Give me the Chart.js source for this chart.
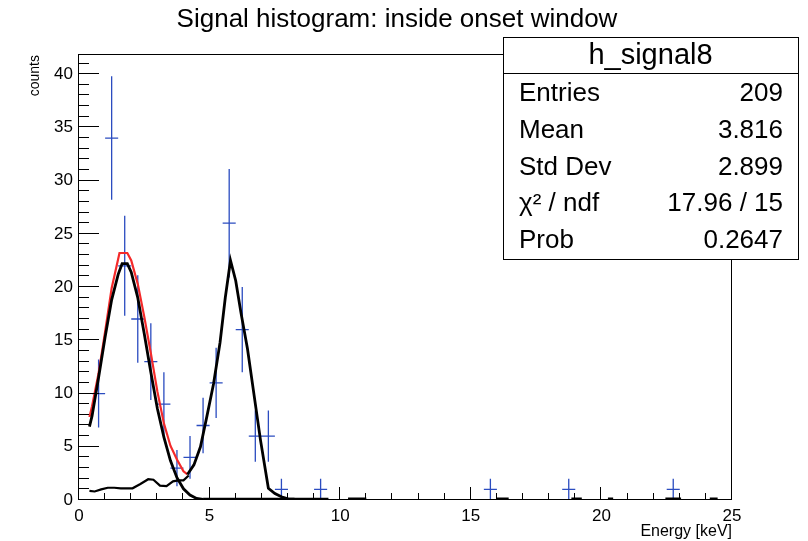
<!DOCTYPE html>
<html>
<head>
<meta charset="utf-8">
<script src="https://cdn.jsdelivr.net/npm/chart.js@4.4.1/dist/chart.umd.min.js"></script>
</head>
<body style="margin:0">
<canvas id="chart0" width="808" height="541"></canvas>
<script>
// histogram bins (centre in keV, counts, error)
var binCenter = [0.75, 1.25, 1.75, 2.25, 2.75, 3.25, 3.75, 4.25, 4.75, 5.25, 5.75, 6.25, 6.75, 7.25, 7.75, 9.25, 15.75, 18.75, 22.75];
var binCounts = [10, 34, 22, 17, 13, 9, 3, 4, 7, 11, 26, 16, 6, 6, 1, 1, 1, 1, 1];
var binErrors = [3.2, 5.8, 4.7, 4.1, 3.6, 3.0, 1.7, 2.0, 2.6, 3.3, 5.1, 4.0, 2.4, 2.4, 1, 1, 1, 1, 1];
var binHalfWidth = 0.25;

// fit curves
var totalX = [0.4, 0.5, 0.75, 1.0, 1.25, 1.55, 1.85, 2.0, 2.25, 2.5, 2.75, 3.0, 3.25, 3.5, 3.75, 4.0, 4.15];
var totalY = [7.8, 8.8, 11.9, 15.8, 19.9, 23.2, 23.2, 22.5, 20.3, 17.2, 13.8, 10.2, 7.2, 5.1, 3.8, 2.7, 2.4];

var peak1X = [0.4, 0.5, 0.75, 1.0, 1.25, 1.5, 1.65, 1.85, 2.0, 2.25, 2.5, 2.75, 3.0, 3.25, 3.5, 3.75, 4.0, 4.25, 4.5, 4.75];
var peak1Y = [6.9, 7.9, 11.5, 15.3, 18.8, 21.2, 22.2, 22.2, 21.4, 19.0, 15.6, 12.0, 8.6, 5.9, 3.7, 2.1, 1.05, 0.47, 0.15, 0.05];

var bkgX = [0.4, 0.6, 0.85, 1.1, 1.35, 1.6, 2.05, 2.35, 2.65, 2.85, 3.1, 3.35, 3.6, 3.8, 4.0, 4.2];
var bkgY = [0.85, 0.8, 1.0, 1.15, 1.15, 1.1, 1.1, 1.5, 1.95, 1.9, 1.35, 1.3, 1.75, 1.85, 1.85, 2.3];

var peak2X = [4.15, 4.4, 4.65, 4.9, 5.15, 5.4, 5.6, 5.8, 6.0, 6.2, 6.45, 6.7, 6.95, 7.25, 7.5, 7.75, 8.0, 8.25];
var peak2Y = [2.4, 3.3, 5.0, 7.9, 10.9, 14.8, 19.0, 22.5, 20.6, 17.6, 14.2, 9.9, 5.6, 1.1, 0.6, 0.3, 0.1, 0.08];

// near-zero stretches along the axis (null = nothing drawn)
var tailX = [4.75, 9.55, 10.0, 10.3, 11.0, 13.0, 16.0, 16.45, 17.0, 18.85, 19.25, 19.7, 20.25, 20.45, 21.0, 22.45, 23.05, 23.5, 24.15, 24.45];
var tailY = [0.08, 0.08, null, 0.12, 0.12, null, 0.12, 0.12, null, 0.12, 0.12, null, 0.12, 0.12, null, 0.12, 0.12, null, 0.12, 0.12];

var xLo = 0, xHi = 25, yLo = 0, yHi = 41.8;

var chartTitle = 'Signal histogram: inside onset window';
var statTitle = 'h_signal8';
var statNames = ['Entries', 'Mean', 'Std Dev', 'χ² / ndf', 'Prob'];
var statValues = ['209', '3.816', '2.899', '17.96 / 15', '0.2647'];

function pairs(xs, ys) {
    var out = [];
    for (var i = 0; i < xs.length; i++) { out.push({ x: xs[i], y: ys[i] }); }
    return out;
}

// error bars as one broken line: vertical + horizontal piece per bin
var errPts = [];
for (var b = 0; b < binCenter.length; b++) {
    var bc = binCenter[b], bv = binCounts[b], be = binErrors[b];
    errPts.push({ x: bc, y: bv - be }, { x: bc, y: bv + be }, { x: bc, y: null });
    errPts.push({ x: bc - binHalfWidth, y: bv }, { x: bc + binHalfWidth, y: bv }, { x: bc + binHalfWidth, y: null });
}

Chart.defaults.font.family = '"Liberation Sans", Arial, Helvetica, sans-serif';
Chart.defaults.color = '#000';

// pixel of a tick value; falls back on the chart area if the scale gives nothing usable
function tickPix(scale, v, p0, p1, lo, hi) {
    var p = scale.getPixelForValue(v);
    var mn = Math.min(p0, p1) - 1, mx = Math.max(p0, p1) + 1;
    if (!isFinite(p) || p < mn || p > mx) { p = p0 + (v - lo) / (hi - lo) * (p1 - p0); }
    return Math.round(p);
}

var frameAndStats = {
    id: 'frameAndStats',
    afterDraw: function (ch) {
        var ctx = ch.ctx, a = ch.chartArea, sx = ch.scales.x, sy = ch.scales.y;
        var L = Math.round(a.left), T = Math.round(a.top), R = Math.round(a.right), B = Math.round(a.bottom);
        ctx.save();
        ctx.globalAlpha = 1;
        ctx.globalCompositeOperation = 'source-over';
        ctx.fillStyle = '#000';
        // ROOT style ticks, inside the frame
        for (var k = 0; k <= 41; k++) {
            var py = tickPix(sy, k, B, T, 0, 41.8);
            ctx.fillRect(L, py - 1, (k % 5 == 0) ? 20 : 10, 1);
        }
        for (var u = 0; u <= 25; u++) {
            var px = tickPix(sx, u, L, R, 0, 25);
            var tl = (u % 5 == 0) ? 13 : 7;
            ctx.fillRect(px - 1, B - tl, 1, tl);
        }
        // frame
        ctx.fillRect(L - 1, T - 1, R - L + 1, 1);
        ctx.fillRect(L - 1, B - 1, R - L + 1, 1);
        ctx.fillRect(L - 1, T - 1, 1, B - T + 1);
        ctx.fillRect(R - 1, T - 1, 1, B - T + 1);

        ctx.textBaseline = 'middle';
        ctx.textAlign = 'center';
        ctx.font = '26px "Liberation Sans", Arial, sans-serif';
        ctx.fillText(chartTitle, 397, 20);

        // stats box
        var bx = 503, by = 37, bw = 295, bh = 222;
        ctx.fillStyle = '#fff';
        ctx.fillRect(bx, by, bw, bh);
        ctx.fillStyle = '#000';
        ctx.fillRect(bx, by, bw, 1);
        ctx.fillRect(bx, by + bh, bw + 1, 1);
        ctx.fillRect(bx, by, 1, bh);
        ctx.fillRect(bx + bw, by, 1, bh);
        ctx.fillRect(bx, 73, bw, 1);
        ctx.font = '29px "Liberation Sans", Arial, sans-serif';
        ctx.fillText(statTitle, bx + bw / 2, 56);
        ctx.font = '26px "Liberation Sans", Arial, sans-serif';
        for (var r = 0; r < statNames.length; r++) {
            var ry = 94 + r * 36.7;
            ctx.textAlign = 'left';
            ctx.fillText(statNames[r], 519, ry);
            ctx.textAlign = 'right';
            ctx.fillText(statValues[r], 783, ry);
        }
        ctx.restore();
    }
};

var config = {
    type: 'line',
    data: {
        datasets: [{
            label: 'peak 1',
            data: pairs(peak1X, peak1Y),
            borderColor: '#000', borderWidth: 2.8, pointRadius: 0, order: 1
        }, {
            label: 'peak 2',
            data: pairs(peak2X, peak2Y),
            borderColor: '#000', borderWidth: 2.8, pointRadius: 0, order: 1
        }, {
            label: 'background',
            data: pairs(bkgX, bkgY),
            borderColor: '#000', borderWidth: 2.2, pointRadius: 0, order: 1
        }, {
            label: 'tail',
            data: pairs(tailX, tailY),
            borderColor: '#000', borderWidth: 2.6, pointRadius: 0, order: 1
        }, {
            label: 'total',
            data: pairs(totalX, totalY),
            borderColor: '#f42a2a', borderWidth: 2.2, pointRadius: 0, order: 2
        }, {
            label: 'h_signal8',
            data: errPts,
            borderColor: '#2b4cc0', borderWidth: 1.3, pointRadius: 0, order: 3
        }]
    },
    options: {
        responsive: false,
        animation: false,
        spanGaps: false,
        layout: { padding: { left: 27, top: 55, right: 76, bottom: 0 } },
        plugins: { legend: { display: false }, tooltip: { enabled: false }, title: { display: false } },
        scales: {
            x: {
                type: 'linear', min: xLo, max: xHi,
                grid: { display: false, drawTicks: false },
                border: { display: false },
                ticks: { stepSize: 5, includeBounds: false, padding: 6, maxRotation: 0, autoSkip: false, color: '#000', font: { size: 17 } },
                title: { display: true, text: 'Energy [keV]', align: 'end', color: '#000', font: { size: 16 }, padding: { top: 0, bottom: 0 } },
                afterFit: function (s) { s.height = 41; }
            },
            y: {
                type: 'linear', min: yLo, max: yHi,
                grid: { display: false, drawTicks: false },
                border: { display: false },
                ticks: { stepSize: 5, includeBounds: false, padding: 6, color: '#000', font: { size: 17 } },
                title: { display: true, text: 'counts', align: 'end', color: '#000', font: { size: 14 }, padding: { top: 0, bottom: 0 } },
                afterFit: function (s) { s.width = 52; }
            }
        }
    },
    plugins: [frameAndStats]
};

var histChart = new Chart(document.getElementById('chart0'), config);
</script>
</body>
</html>
